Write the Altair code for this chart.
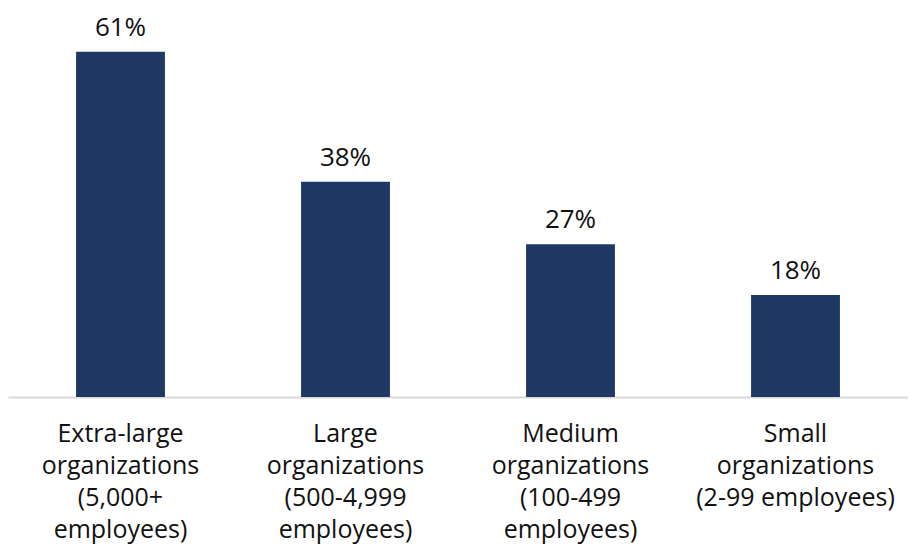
import altair as alt
import pandas as pd

categories = [
    "Extra-large|organizations|(5,000+|employees)",
    "Large|organizations|(500-4,999|employees)",
    "Medium|organizations|(100-499|employees)",
    "Small|organizations|(2-99 employees)",
]
values = [61, 38, 27, 18]

df = pd.DataFrame({"category": categories, "value": values})

FONT = "Open Sans"

base = alt.Chart(df).encode(
    x=alt.X(
        "category:N",
        sort=None,
        scale=alt.Scale(paddingInner=0.605, paddingOuter=0.3025),
        axis=alt.Axis(
            title=None,
            labelAngle=0,
            labelExpr="split(datum.label, '|')",
            labelFont=FONT,
            labelFontSize=25,
            labelLineHeight=32,
            labelColor="#111111",
            labelPadding=24,
            labelLimit=0,
            domainColor="#d9d9d9",
            domainWidth=2,
            ticks=False,
            grid=False,
        ),
    ),
    y=alt.Y(
        "value:Q",
        scale=alt.Scale(domain=[0, 67.3], nice=False, zero=True),
        axis=None,
    ),
)

bars = base.mark_bar(color="#1f3864")

labels = base.transform_calculate(
    label="format(datum.value, 'd') + '%'"
).mark_text(
    dy=-16, baseline="alphabetic", font=FONT, fontSize=26, color="#111111"
).encode(text="label:N")

chart = (
    (bars + labels)
    .properties(
        width=900,
        height=381,
        autosize=alt.AutoSizeParams(type="none"),
        padding={"left": 0, "top": 8, "right": 0, "bottom": 152},
    )
    .configure_view(stroke=None)
)

chart.save("out.html", embed_options={"renderer": "svg", "actions": False})
